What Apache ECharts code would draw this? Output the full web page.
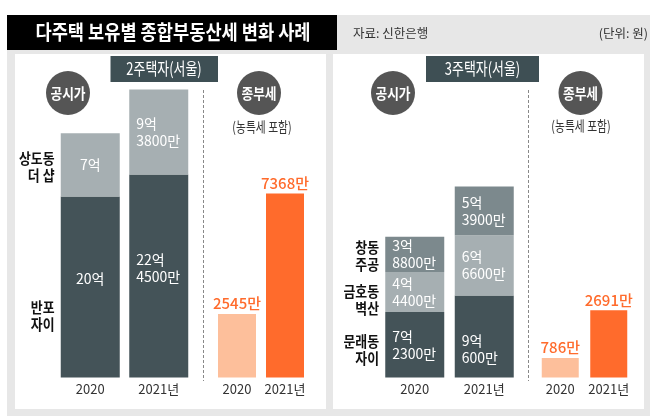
<!DOCTYPE html>
<html>
<head>
<meta charset="utf-8">
<script src="https://cdn.jsdelivr.net/npm/echarts@6/dist/echarts.min.js"></script>
<style>
  html, body { margin: 0; padding: 0; background: #fff; }
  #chart { width: 663px; height: 416px; }
</style>
</head>
<body>
<div id="chart"></div>
<script>
// 단위: 만원
const years = ['2020', '2021년']

// 2주택자(서울) 공시가, 아래에서 위로
const twoNames = ['반포\n자이', '상도동\n더 샵']
const twoBanpo = [200000, 224500]
const twoSangdo = [70000, 93800]
const twoTax = [2545, 7368]

// 3주택자(서울) 공시가, 아래에서 위로
const threeNames = ['문래동\n자이', '금호동\n벽산', '창동\n주공']
const threeMullae = [72300, 90600]
const threeGeumho = [44400, 66600]
const threeChang = [38800, 53900]
const threeTax = [786, 2691]

const FONT = '"Noto Sans CJK KR", "Noto Sans", sans-serif'
const DARK = '#445358'
const MID = '#7c898d'
const LIGHT = '#a6afb2'
const ORANGE = '#ff6b2c'
const PALE = '#fdbf9b'

const fmtPrice = v => {
    let eok = Math.floor(v / 10000)
    let man = v % 10000
    return man === 0 ? eok + '억' : eok + '억\n' + man + '만'
}

const chart = echarts.init(document.getElementById('chart'), null, {renderer: 'canvas'})

// grid 0: 2주택 공시가, 1: 2주택 종부세, 2: 3주택 공시가, 3: 3주택 종부세
const grids = [
    {left: 56, width: 137},
    {left: 213, width: 96},
    {left: 380, width: 139},
    {left: 536, width: 97}
].map(g => Object.assign({top: 88, bottom: 38.5}, g))

const xAxes = grids.map((g, i) => ({
    type: 'category',
    gridIndex: i,
    data: years,
    axisLine: {show: false},
    axisTick: {show: false},
    axisLabel: {interval: 0, color: '#333', fontSize: 13, fontFamily: FONT, margin: 5}
}))

const yAxes = grids.map((g, i) => ({
    type: 'value',
    gridIndex: i,
    min: 0,
    max: i % 2 === 0 ? 320000 : 11600,
    show: false,
    splitLine: {show: false}
}))

// 라벨 세로 위치 미세조정 (px)
const nudge = {banpo: [-8, -8], mullae: [0, 13]}

const priceSeries = (name, values, color, grid, shift) => ({
    type: 'bar',
    name: name,
    xAxisIndex: grid,
    yAxisIndex: grid,
    stack: 'price' + grid,
    barWidth: 59,
    itemStyle: {color: color},
    data: values.map((v, i) => {
        let multi = fmtPrice(v).indexOf('\n') >= 0
        return {
            value: v,
            label: {
                position: multi ? 'insideLeft' : 'inside',
                offset: [0, shift ? shift[i] : 0]
            }
        }
    }),
    label: {
        show: true,
        distance: 7,
        color: '#fff',
        fontSize: 14,
        lineHeight: 17,
        fontFamily: FONT,
        formatter: p => fmtPrice(p.value)
    }
})

const taxSeries = (values, grid) => ({
    type: 'bar',
    xAxisIndex: grid,
    yAxisIndex: grid,
    barWidth: 38,
    data: values.map((v, i) => ({value: v, itemStyle: {color: i === 0 ? PALE : ORANGE}})),
    label: {
        show: true,
        position: 'top',
        distance: 3,
        color: ORANGE,
        fontSize: 15,
        fontWeight: 500,
        fontFamily: FONT,
        formatter: p => p.value + '만'
    }
})

const txt = (x, y, text, o) => Object.assign({
    type: 'text',
    x: x,
    y: y,
    z: 1,
    style: Object.assign({
        text: text,
        fill: '#222',
        fontSize: 13,
        fontFamily: FONT,
        align: 'center',
        verticalAlign: 'middle'
    }, o.style || {})
}, o.el || {})

const rect = (x, y, w, h, fill) => ({
    type: 'rect', z: 0, shape: {x: x, y: y, width: w, height: h}, style: {fill: fill}
})

const circle = (cx, cy, label) => [
    {type: 'circle', z: 0, shape: {cx: cx, cy: cy, r: 22}, style: {fill: '#555'}},
    txt(cx, cy, label, {style: {fill: '#fff', fontSize: 15, fontWeight: 'bold'}, el: {scaleX: 0.85}})
]

const dash = x => ({
    type: 'line', z: 0,
    shape: {x1: x, y1: 90, x2: x, y2: 381},
    style: {stroke: '#888', lineWidth: 1, lineDash: [3, 2]}
})

const rowLabel = (x, y, text) => txt(x, y, text, {
    style: {fill: '#111', fontSize: 15, fontWeight: 'bold', align: 'right', lineHeight: 17},
    el: {scaleX: 0.86}
})

const graphic = [
    rect(7, 15, 643, 401, '#e7e7e7'),
    rect(7, 15, 330, 35, '#000'),
    rect(15, 54, 311, 355, '#fff'),
    rect(333, 54, 311, 355, '#fff'),
    txt(173, 32.5, '다주택 보유별 종합부동산세 변화 사례', {
        style: {fill: '#fff', fontSize: 20, fontWeight: 'bold'}, el: {scaleX: 0.88}
    }),
    txt(353, 33, '자료: 신한은행', {style: {fill: '#333', fontSize: 12.5, align: 'left'}}),
    txt(648, 33, '(단위: 원)', {style: {fill: '#333', fontSize: 12.5, align: 'right'}}),
    rect(110.5, 56, 107.5, 26, '#3e4f54'),
    txt(164, 69, '2주택자(서울)', {style: {fill: '#fff', fontSize: 17}, el: {scaleX: 0.76}}),
    rect(426, 56, 113, 26, '#3e4f54'),
    txt(482.5, 69, '3주택자(서울)', {style: {fill: '#fff', fontSize: 17}, el: {scaleX: 0.76}}),
    ...circle(68, 93, '공시가'),
    ...circle(259, 93, '종부세'),
    ...circle(393, 93, '공시가'),
    ...circle(580.5, 93, '종부세'),
    txt(262, 126.5, '(농특세 포함)', {style: {fill: '#333', fontSize: 14}, el: {scaleX: 0.77}}),
    txt(581, 125.5, '(농특세 포함)', {style: {fill: '#333', fontSize: 14}, el: {scaleX: 0.77}}),
    dash(203.5),
    dash(528.5),
    rowLabel(54.5, 167, twoNames[1]),
    rowLabel(54.5, 315.5, twoNames[0]),
    rowLabel(379, 255.5, threeNames[2]),
    rowLabel(379, 299.5, threeNames[1]),
    rowLabel(379, 349.5, threeNames[0])
]

const option = {
    animation: false,
    backgroundColor: '#fff',
    grid: grids,
    xAxis: xAxes,
    yAxis: yAxes,
    graphic: graphic,
    series: [
        priceSeries(twoNames[0], twoBanpo, DARK, 0, nudge.banpo),
        priceSeries(twoNames[1], twoSangdo, LIGHT, 0),
        taxSeries(twoTax, 1),
        priceSeries(threeNames[0], threeMullae, DARK, 2, nudge.mullae),
        priceSeries(threeNames[1], threeGeumho, LIGHT, 2),
        priceSeries(threeNames[2], threeChang, MID, 2),
        Object.assign(taxSeries(threeTax, 3), {barWidth: 37})
    ]
}

chart.setOption(option)
</script>
</body>
</html>
